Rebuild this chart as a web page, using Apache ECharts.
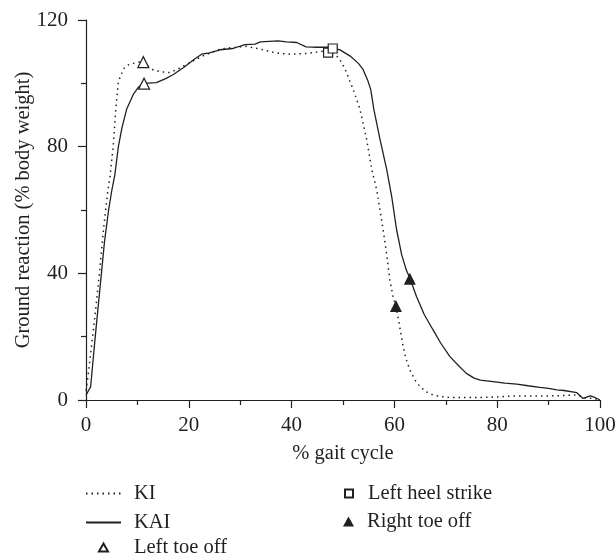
<!DOCTYPE html>
<html>
<head>
<meta charset="utf-8">
<script src="https://cdn.jsdelivr.net/npm/echarts@6/dist/echarts.min.js"></script>
<style>
  html, body { margin: 0; padding: 0; background: #fff; }
  #chart { width: 615px; height: 555px; }
</style>
</head>
<body>
<div id="chart"></div>
<script>
(function () {
  'use strict';

  // % gait cycle vs ground reaction (% body weight)
  const kiCurve = [
    [0, 3], [0.3, 6.3], [1.0, 16], [1.8, 27.4], [2.6, 40], [3.4, 53.8], [4.2, 65.4], [4.7, 71],
    [5.3, 80.2], [5.8, 92], [6.3, 100.5], [7.3, 104.6], [8.2, 105.8], [9.2, 106.3], [10.3, 106.7],
    [11.1, 106.8], [12.2, 105.3], [13.1, 104.2], [14.8, 103.6], [16.3, 103.4], [18, 104.6],
    [19.6, 106], [21.2, 107.4], [22.8, 108.7], [24.5, 109.8], [26.1, 110.8], [28.5, 111.3],
    [31.2, 111.7], [33.9, 110.8], [36.4, 109.8], [38, 109.4], [39.7, 109.2], [41.5, 109.3],
    [43.3, 109.5], [45, 109.9], [46.2, 110.2], [47.1, 109.9], [48.1, 109.2], [48.8, 108.6],
    [49.8, 106.5], [50.7, 103.4], [51.3, 100.8], [52, 98], [53.3, 91.8], [54.6, 82.3],
    [55.6, 72.8], [56.6, 66], [57.2, 60], [57.8, 53.8], [58.5, 46], [59.1, 38], [59.7, 33],
    [60.3, 29.5], [60.8, 25.3], [61.7, 16.9], [62.3, 12.8], [63, 9.5], [64, 6.3], [65, 4.2],
    [66.2, 2.6], [67.5, 1.6], [69, 1.1], [70.8, 0.8], [74, 0.8], [77.3, 0.8], [80.5, 1.0],
    [83.8, 1.3], [87, 1.3], [90.3, 1.3], [93, 1.4], [95.5, 1.6], [96.5, 1.0], [97.4, 0.5],
    [98.5, 0.6], [100, 0]
  ];

  const kaiCurve = [
    [0, 1.5], [0.9, 4.2], [1.8, 20], [2.7, 35], [3.6, 50], [4.4, 60], [5, 66], [5.6, 71],
    [6.3, 80], [7, 86], [7.9, 91.8], [9.2, 96.5], [10.2, 98.8], [11.3, 100], [13.7, 100.2],
    [15.5, 101.5], [17, 102.8], [19, 105], [21, 107.5], [22.5, 109.2], [24, 109.6], [26.1, 110.6],
    [28.6, 111], [30.9, 112.2], [32.9, 112.4], [33.9, 113.1], [37.4, 113.4], [39, 113.1],
    [41, 112.9], [42.8, 111.5], [45, 111.4], [47.1, 111.4], [48, 111.3], [49.5, 110.5],
    [51.4, 108.6], [53, 106.3], [53.9, 104.4], [54.8, 101], [55.4, 98], [56, 91.8], [57.2, 82.3],
    [58.5, 72.8], [59.5, 64], [60.4, 54], [61.4, 46], [62.3, 41.1], [63, 38.5], [64.3, 32.7],
    [65.8, 27], [67.5, 22.2], [69, 18], [70.8, 13.7], [72.5, 10.8], [74, 8.4], [75.5, 6.9],
    [76.7, 6.3], [79.2, 5.8], [81.5, 5.3], [83.8, 5], [86, 4.5], [88.3, 4], [90, 3.7], [91.6, 3.2],
    [93, 3], [95.5, 2.3], [96.7, 0.5], [98.1, 1.3], [99, 0.8], [100, 0]
  ];

  const leftToeOff = [[11.15, 106.7], [11.3, 99.9]];
  const leftHeelStrike = [[47.1, 109.7], [48.0, 111.0]];
  const rightToeOff = [[60.3, 29.7], [63.0, 38.3]];

  const xTicks = { min: 0, max: 100, interval: 20 };
  const yTicks = { min: 0, max: 120, interval: 40 };

  const ink = '#231f20';
  const font = 'Liberation Serif';
  const fontSize = 21;

  const chart = echarts.init(document.getElementById('chart'), null, { renderer: 'canvas' });

  function axisCommon() {
    return {
      type: 'value',
      nameMoveOverlap: false,
      axisLine: { show: true, lineStyle: { color: ink, width: 1.2 } },
      axisTick: { show: true, inside: false, length: 8, lineStyle: { color: ink, width: 1.2 } },
      minorTick: { show: true, splitNumber: 2, length: 5, lineStyle: { color: ink, width: 1.2 } },
      splitLine: { show: false },
      nameTextStyle: { color: ink, fontFamily: font, fontSize: 20.5 }
    };
  }

  function legendText(gap) {
    return { color: ink, fontFamily: font, fontSize: 20.5, lineHeight: 20, padding: [0, 0, 0, gap] };
  }

  // line legend icons: hide the default dot ECharts puts on line icons
  const noDot = { color: 'transparent', borderWidth: 0 };

  chart.setOption({
    animation: false,
    backgroundColor: '#fff',
    grid: { left: 86, right: 15, top: 20, bottom: 155, outerBoundsMode: 'none' },
    xAxis: Object.assign(axisCommon(), {
      min: xTicks.min,
      max: xTicks.max,
      interval: xTicks.interval,
      name: '% gait cycle',
      nameLocation: 'middle',
      nameGap: 43,
      axisLabel: { color: ink, fontFamily: font, fontSize: fontSize, margin: 15 }
    }),
    yAxis: Object.assign(axisCommon(), {
      min: yTicks.min,
      max: yTicks.max,
      interval: yTicks.interval,
      name: 'Ground reaction (% body weight)',
      nameLocation: 'middle',
      nameGap: 52,
      axisLabel: { color: ink, fontFamily: font, fontSize: fontSize, margin: 18 }
    }),
    legend: [
      {
        orient: 'vertical', left: 85, top: 483, padding: 0, itemGap: 8,
        itemWidth: 35, itemHeight: 8,
        textStyle: legendText(8),
        data: [
          { name: 'KI', itemStyle: noDot },
          { name: 'KAI', itemStyle: noDot }
        ]
      },
      {
        orient: 'vertical', left: 98, top: 537, padding: 0,
        itemWidth: 9, itemHeight: 8,
        textStyle: legendText(21),
        data: ['Left toe off']
      },
      {
        orient: 'vertical', left: 344, top: 483, padding: 0,
        itemWidth: 8, itemHeight: 8,
        textStyle: legendText(10),
        data: ['Left heel strike']
      },
      {
        orient: 'vertical', left: 343, top: 511, padding: 0,
        itemWidth: 11, itemHeight: 10,
        textStyle: legendText(8),
        data: ['Right toe off']
      }
    ],
    series: [
      {
        name: 'KI',
        type: 'line',
        data: kiCurve,
        symbol: 'none',
        lineStyle: { color: ink, width: 1.5, type: [1.5, 4] },
        itemStyle: { color: ink },
        emphasis: { disabled: true },
        z: 2
      },
      {
        name: 'KAI',
        type: 'line',
        data: kaiCurve,
        symbol: 'none',
        lineStyle: { color: ink, width: 1.3 },
        itemStyle: { color: ink },
        emphasis: { disabled: true },
        z: 2
      },
      {
        name: 'Left toe off',
        type: 'scatter',
        data: leftToeOff,
        symbol: 'triangle',
        symbolSize: 11,
        itemStyle: { color: '#fff', borderColor: ink, borderWidth: 1.2, opacity: 1 },
        emphasis: { disabled: true },
        z: 5
      },
      {
        name: 'Left heel strike',
        type: 'scatter',
        data: leftHeelStrike,
        symbol: 'rect',
        symbolSize: 9,
        itemStyle: { color: '#fff', borderColor: ink, borderWidth: 1.2, opacity: 1 },
        emphasis: { disabled: true },
        z: 5
      },
      {
        name: 'Right toe off',
        type: 'scatter',
        data: rightToeOff,
        symbol: 'triangle',
        symbolSize: 12,
        itemStyle: { color: ink, opacity: 1 },
        emphasis: { disabled: true },
        z: 5
      }
    ]
  });
})();
</script>
</body>
</html>
